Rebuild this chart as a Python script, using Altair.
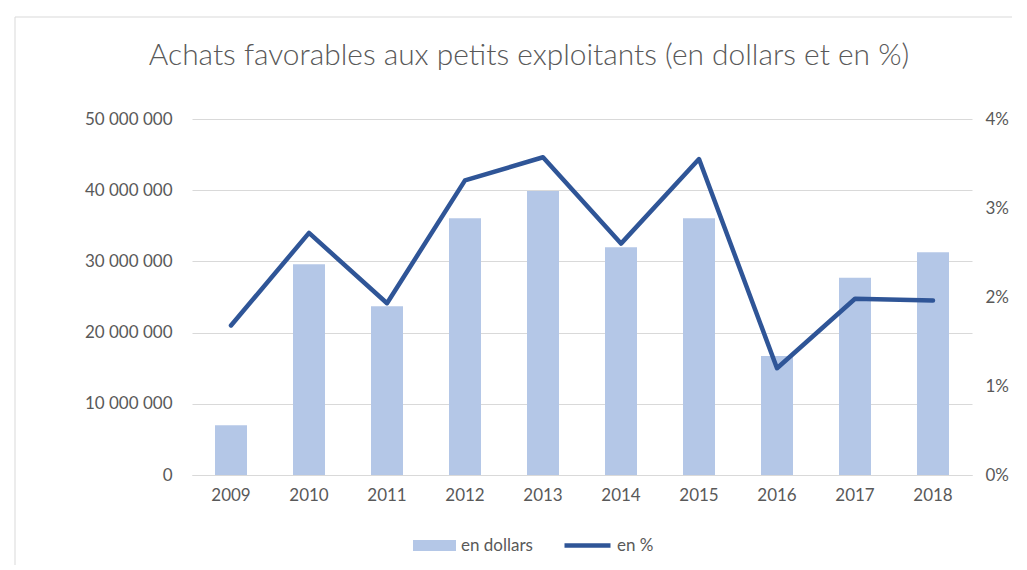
import altair as alt
import pandas as pd

years = ["2009", "2010", "2011", "2012", "2013", "2014", "2015", "2016", "2017", "2018"]
dollars = [7.0e6, 29.6e6, 23.7e6, 36.05e6, 39.9e6, 32.0e6, 36.05e6, 16.7e6, 27.7e6, 31.3e6]
percent = [0.0168, 0.0272, 0.0193, 0.0331, 0.0357, 0.0260, 0.0355, 0.0120, 0.0198, 0.0196]
left_ticks = [0, 10e6, 20e6, 30e6, 40e6, 50e6]
right_ticks = [0, 0.01, 0.02, 0.03, 0.04]
title_text = "Achats favorables aux petits exploitants (en dollars et en %)"

df = pd.DataFrame({"year": years, "dollars": dollars, "percent": percent,
                   "s_bar": "en dollars", "s_line": "en %"})

FONT = "Lato"
TXT = "#595959"
BAR = "#B4C7E7"
LINE = "#2F5597"

x = alt.X("year:N", sort=years, title=None,
          scale=alt.Scale(paddingInner=0.59, paddingOuter=0.295),
          axis=alt.Axis(labelAngle=0, ticks=False, domainColor="#D9D9D9",
                        labelPadding=12, labelFontSize=17, labelColor=TXT, labelFont=FONT))

bars = alt.Chart(df).mark_bar(color=BAR).encode(
    x=x,
    y=alt.Y("dollars:Q", title=None,
            scale=alt.Scale(domain=[0, 50e6], nice=False),
            axis=alt.Axis(values=left_ticks, grid=True, gridColor="#D9D9D9", ticks=False,
                          domain=False, labelPadding=20, labelFontSize=17, labelColor=TXT,
                          labelFont=FONT,
                          labelExpr="datum.value == 0 ? '0' : format(datum.value/1000000, 'd') + ' 000 000'")),
    color=alt.Color("s_bar:N", scale=alt.Scale(domain=["en dollars"], range=[BAR]),
                    legend=alt.Legend(title=None, orient="none", legendX=221, legendY=405,
                                      symbolType="M-1,-0.256H1V0.256H-1Z", symbolSize=1849,
                                      symbolStrokeWidth=0, labelFontSize=17, labelColor=TXT,
                                      labelFont=FONT, labelOffset=5, padding=0)),
)

line = alt.Chart(df).mark_line(strokeWidth=4.5, strokeCap="round", strokeJoin="round").encode(
    x=x,
    y=alt.Y("percent:Q", title=None,
            scale=alt.Scale(domain=[0, 0.04], nice=False),
            axis=alt.Axis(orient="right", values=right_ticks, format=".0%", grid=False,
                          ticks=False, domain=False, labelPadding=13, labelFontSize=17,
                          labelColor=TXT, labelFont=FONT)),
    color=alt.Color("s_line:N", scale=alt.Scale(domain=["en %"], range=[LINE]),
                    legend=alt.Legend(title=None, orient="none", legendX=370, legendY=401,
                                      symbolType="M-1,0H1", symbolSize=2116,
                                      symbolStrokeWidth=4.5, labelFontSize=17, labelColor=TXT,
                                      labelFont=FONT, labelOffset=4, padding=0)),
)

one = pd.DataFrame({"t": [title_text]})
top_border = alt.Chart(one).mark_rule(color="#D9D9D9", strokeWidth=1).encode(
    x=alt.value(-177), x2=alt.value(840), y=alt.value(-102))
left_border = alt.Chart(one).mark_rule(color="#D9D9D9", strokeWidth=1).encode(
    x=alt.value(-177), y=alt.value(-102), y2=alt.value(460))
title = alt.Chart(one).mark_text(font=FONT, fontSize=29.9, fontWeight=300, color=TXT,
                                 align="center", baseline="alphabetic").encode(
    text="t:N", x=alt.value(337), y=alt.value(-54.5))

chart = alt.layer(top_border, left_border, title, bars, line).resolve_scale(
    y="independent", color="independent"
).properties(
    width=780, height=356,
    padding={"left": 184, "top": 111, "right": 40, "bottom": 90},
    autosize=alt.AutoSizeParams(type="none"),
    background="white",
).configure_view(stroke=None)

chart.save("out.html", embed_options={"renderer": "svg", "actions": False})
